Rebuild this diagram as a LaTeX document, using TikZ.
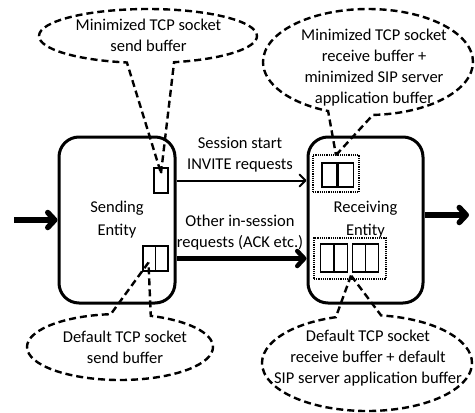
\documentclass[tikz,border=0pt]{standalone}
\usepackage{fontspec}
\setmainfont{Carlito}
\usetikzlibrary{shapes.callouts,arrows.meta}
\begin{document}
\begin{tikzpicture}[x=1pt,y=-1pt,
  every node/.style={font=\fontsize{16.5}{21}\selectfont},
  entity/.style={draw, line width=3pt, rounded corners=20pt, minimum width=116pt,
    minimum height=166pt, align=center, inner sep=0pt, font=\fontsize{16.5}{23}\selectfont},
  buf/.style={draw, line width=1.6pt, inner sep=0pt},
  dbuf/.style={buf, path picture={\draw[line width=1.6pt] (path picture bounding box.north) -- (path picture bounding box.south);}},
  dotbox/.style={draw, line width=1.8pt, dash pattern=on 1.2pt off 1pt, inner sep=0pt},
  bubble/.style={ellipse callout, draw, line width=2.4pt, dash pattern=on 7pt off 4pt,
    inner sep=0pt, callout pointer arc=25},
  txt/.style={align=center, inner sep=0pt},
  arrthin/.style={line width=2pt, -{Straight Barb[length=6pt,width=12pt,round]}},
  arrmid/.style={line width=4.5pt, -{Straight Barb[length=7pt,width=15pt,round]}},
  arrbig/.style={line width=5.5pt, -{Straight Barb[length=7pt,width=15pt,round]}}
]
\useasboundingbox (0,0) rectangle (475,413);

% entities
\node[entity] (send) at (117,220) {Sending\\Entity};
\node[entity, minimum width=115pt] (recv) at (365.5,220) {Receiving\\Entity};

% buffers
\node[buf, minimum width=14pt, minimum height=25pt] (sbmin) at (161,180.5) {};
\node[dbuf, minimum width=25pt, minimum height=25pt] (sbdef) at (155.5,258.5) {};
\node[dotbox, minimum width=46pt, minimum height=37pt] (rvmin) at (336,173.5) {};
\node[buf, minimum width=15pt, minimum height=24pt] (rvminA) at (329.5,175) {};
\node[buf, minimum width=15pt, minimum height=24pt] (rvminB) at (346,175) {};
\node[dotbox, minimum width=72pt, minimum height=41pt] (rvdef) at (350,258.5) {};
\node[dbuf, minimum width=27pt, minimum height=28pt] (rvdefA) at (334,258) {};
\node[dbuf, minimum width=26pt, minimum height=28pt] (rvdefB) at (365.5,258) {};

% arrows
\coordinate (inp) at (14,220);
\coordinate (outp) at (469,215);
\draw[arrbig] (inp) -- (inp -| send.west);
\draw[arrbig] (outp -| recv.east) -- (outp);
\draw[arrthin] (send.east |- sbmin.center) -- (recv.west |- sbmin.center);
\draw[arrmid] (send.east |- sbdef.center) -- (recv.west |- sbdef.center);

\node[txt] (l1) at (240,155) {Session start\\INVITE requests};
\node[txt] (l2) at (240,233) {Other in-session\\requests (ACK etc.)};

% callouts
\node[bubble, minimum width=218pt, minimum height=54pt,
  callout absolute pointer={([yshift=-6pt]sbmin.north)}] (c1) at (148,36) {};
\node[txt] (t1) at (148.5,35) {Minimized TCP socket\\send buffer};

\node[bubble, minimum width=210pt, minimum height=106pt,
  callout absolute pointer={([yshift=-1pt]rvmin.north)}] (c2) at (368,62) {};
\node[txt] (t2) at (374,68) {Minimized TCP socket\\receive buffer +\\minimized SIP server\\application buffer};

\node[bubble, minimum width=186pt, minimum height=66pt,
  callout absolute pointer={([shift={(-7,4)}]sbdef.center)}] (c3) at (120,347) {};
\node[txt] (t3) at (125,347) {Default TCP socket\\send buffer};

\node[bubble, minimum width=210pt, minimum height=96pt,
  callout absolute pointer={([shift={(1,17)}]rvdef.center)}] (c4) at (367,363) {};
\node[txt] (t4) at (368,358) {Default TCP socket\\receive buffer + default\\SIP server application buffer};
\end{tikzpicture}
\end{document}
